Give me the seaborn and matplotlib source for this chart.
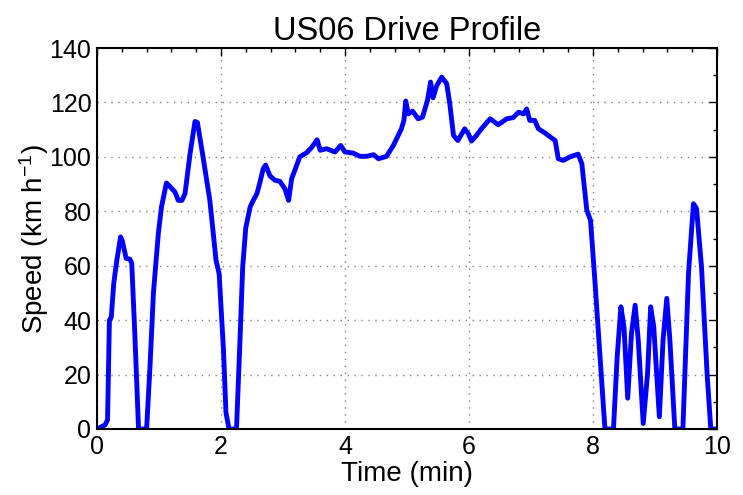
import numpy as np
import pandas as pd
import seaborn as sns
import matplotlib
matplotlib.use("Agg")
import matplotlib.pyplot as plt
from matplotlib.ticker import MultipleLocator

# ---- data ----
time_min = [0.00, 0.13, 0.17, 0.20, 0.23, 0.27, 0.32, 0.38, 0.41, 0.47, 0.53, 0.56, 0.61, 0.67,
            0.80, 0.855, 0.91, 0.99, 1.04, 1.12, 1.18, 1.26, 1.31, 1.37, 1.42, 1.50, 1.58, 1.62,
            1.71, 1.82, 1.92, 1.97, 2.04, 2.08, 2.13, 2.25, 2.31, 2.35, 2.40, 2.47, 2.52, 2.58,
            2.63, 2.68, 2.72, 2.79, 2.87, 2.95, 3.03, 3.09, 3.14, 3.19, 3.27, 3.38, 3.46, 3.55,
            3.60, 3.70, 3.84, 3.93, 4.00, 4.13, 4.24, 4.35, 4.46, 4.54, 4.67, 4.78, 4.91, 4.95,
            4.98, 5.02, 5.09, 5.18, 5.25, 5.33, 5.38, 5.42, 5.48, 5.56, 5.64, 5.69, 5.75, 5.82,
            5.93, 5.99, 6.04, 6.12, 6.20, 6.34, 6.47, 6.61, 6.71, 6.80, 6.88, 6.93, 6.98, 7.06,
            7.12, 7.23, 7.31, 7.39, 7.44, 7.52, 7.63, 7.76, 7.82, 7.90, 7.96, 8.03, 8.11, 8.19,
            8.20, 8.33, 8.39, 8.45, 8.50, 8.56, 8.62, 8.68, 8.73, 8.81, 8.88, 8.93, 8.98, 9.07,
            9.13, 9.19, 9.24, 9.32, 9.45, 9.54, 9.62, 9.67, 9.75, 9.84, 9.90, 10.00]
speed_kmh = [0, 1.5, 3.3, 40, 41, 53.5, 62, 70.6, 69, 62.7, 62.4, 61, 35, 0,
             0, 23, 50, 72, 81.6, 90.4, 89, 87, 84, 84, 86.5, 101, 113, 112.6,
             100, 84, 62, 57, 29, 6, 0, 0, 35, 59.6, 74, 81.6, 84, 86.5,
             90.8, 95.6, 97, 93, 91.4, 91, 88.3, 84, 92, 95, 100, 101.5, 103.4, 106.3,
             102.4, 103, 101.8, 104.2, 101.8, 101.4, 100.2, 100.2, 100.8, 99.3, 100.2, 104.2, 110.3, 113.4,
             120.5, 115.8, 116.8, 114, 114.6, 120.7, 127.5, 121.7, 126.2, 129.3, 126.9, 119.5, 107.9, 106,
             110.3, 108.5, 105.8, 107.9, 110.3, 114, 111.8, 114, 114.4, 116.4, 115.8, 117.6, 113.4, 113.4,
             110.3, 108.7, 107.3, 106, 99.3, 98.7, 100, 101, 97.5, 80.4, 76.7, 54.7, 27.8, 0.8,
             0, 0, 26.5, 44.9, 37.5, 11.3, 35, 45.5, 32.7, 2, 20.4, 44.9, 37.5, 4.5,
             32.7, 48, 32.7, 0, 0, 57, 82.8, 81, 59.6, 20.4, 0, 0]

title_text = "US06 Drive Profile"
x_label = "Time (min)"
y_label = "Speed (km h$^{-1}$)"

df = pd.DataFrame({"t": time_min, "v": speed_kmh})

sns.set_theme(style="white")
plt.rcParams["font.family"] = ["Liberation Sans", "DejaVu Sans"]
plt.rcParams["mathtext.fontset"] = "custom"
plt.rcParams["mathtext.rm"] = "Liberation Sans"
plt.rcParams["mathtext.it"] = "Liberation Sans"
plt.rcParams["text.color"] = "black"
plt.rcParams["axes.labelcolor"] = "black"
plt.rcParams["xtick.color"] = "black"
plt.rcParams["ytick.color"] = "black"

fig = plt.figure(figsize=(7.43, 4.95), dpi=100)
ax = fig.add_axes([97 / 743, 1 - 429 / 495, 620 / 743, 381 / 495])

sns.lineplot(data=df, x="t", y="v", ax=ax, color="#0000ff", linewidth=3.5,
             sort=False, estimator=None)

ax.set_xlim(0, 10)
ax.set_ylim(0, 140)
ax.xaxis.set_major_locator(MultipleLocator(2))
ax.xaxis.set_minor_locator(MultipleLocator(0.4))
ax.yaxis.set_major_locator(MultipleLocator(20))
ax.yaxis.set_minor_locator(MultipleLocator(10))
ax.tick_params(which="both", direction="in", top=True, right=True, color="black",
               width=1.0)
ax.tick_params(which="major", length=6, labelsize=18, pad=4)
ax.tick_params(which="minor", length=3)
ax.grid(True, which="major", linestyle=(0, (1, 4)), color="#808080", linewidth=1.0)
for s in ax.spines.values():
    s.set_color("black")
    s.set_linewidth(1.5)

ax.set_title(title_text, fontsize=23.5, pad=6)
ax.set_xlabel(x_label, fontsize=20, labelpad=2)
ax.set_ylabel(y_label, fontsize=20, labelpad=-1)

fig.savefig("out.png", dpi=100)
